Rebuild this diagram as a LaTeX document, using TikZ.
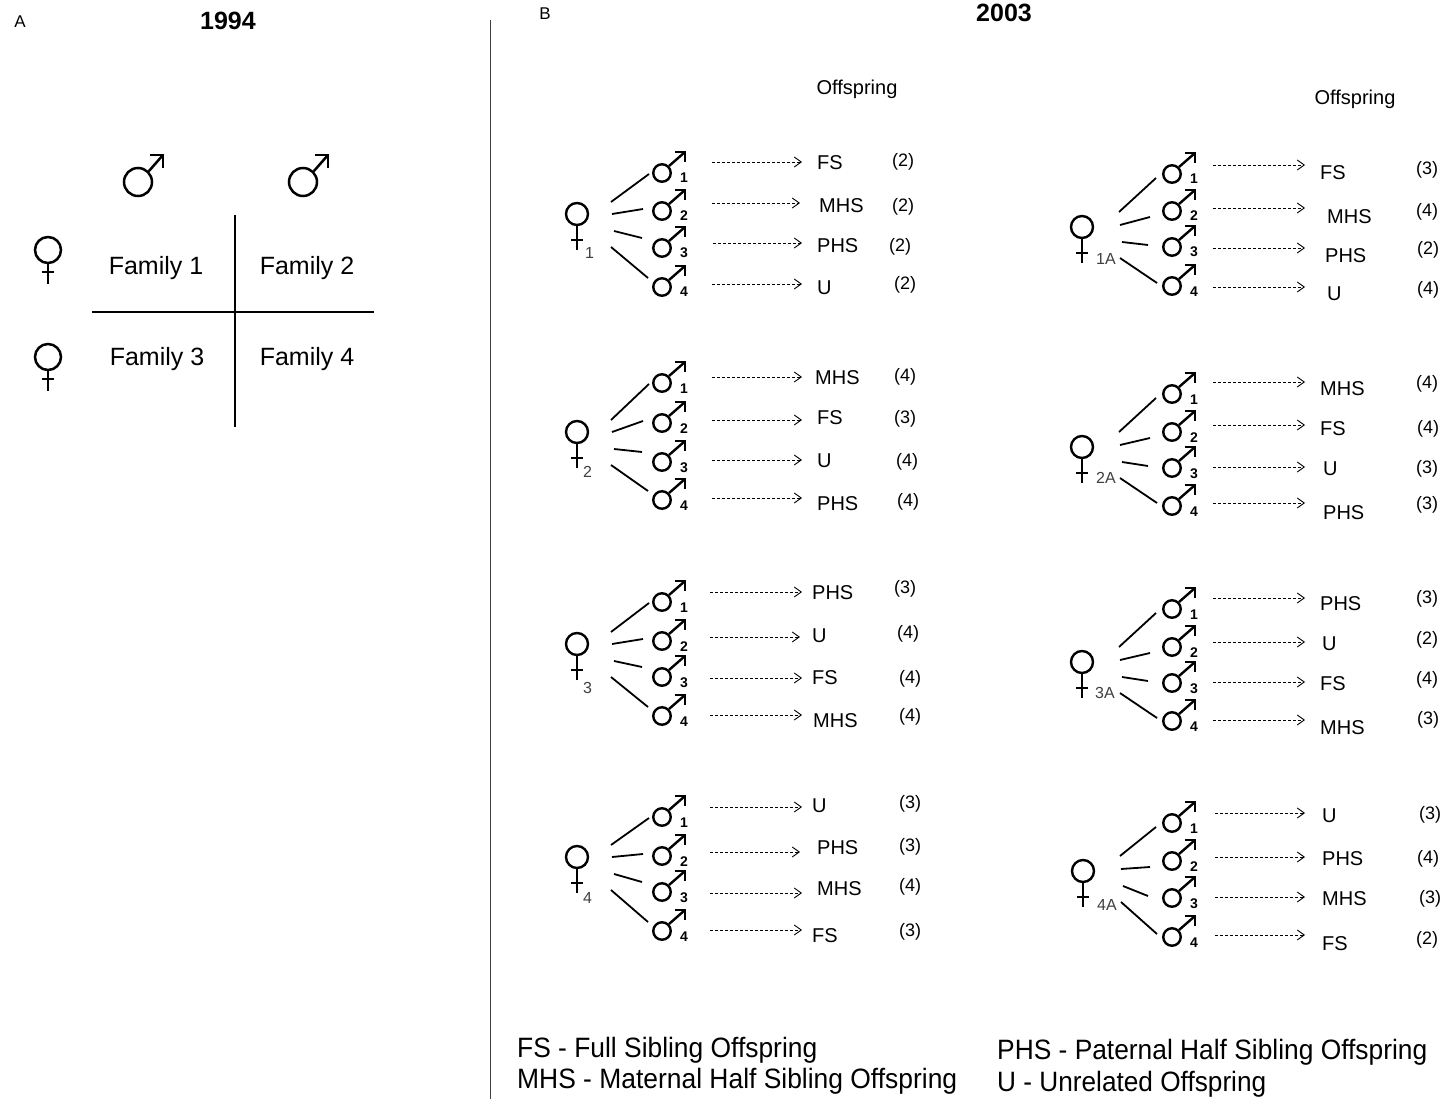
\documentclass[tikz,border=0pt]{standalone}
\usepackage{fontspec}
\setmainfont{Liberation Sans}
\usepackage{graphicx}
\usetikzlibrary{calc,arrows.meta}

\newcounter{rowc}
\tikzset{
  sym/.style={line width=2.4pt, draw=black},
  symA/.style={line width=2.5pt, draw=black},
  mcircB/.style={circle, draw, line width=2.4pt, inner sep=0pt, minimum size=17.5pt},
  fcircB/.style={circle, draw, line width=2.4pt, inner sep=0pt, minimum size=22pt},
  mcircA/.style={circle, draw, line width=2.5pt, inner sep=0pt, minimum size=28pt},
  fcircA/.style={circle, draw, line width=2.5pt, inner sep=0pt, minimum size=26pt},
  conn/.style={line width=1.8pt},
  gridline/.style={line width=1.8pt},
  divider/.style={line width=1pt, draw=black!75},
  darr/.style={line width=0.9pt, dash pattern=on 3pt off 2pt,
    -{Straight Barb[length=7pt,width=10pt,line width=0.9pt]}},
  rowtxt/.style={inner sep=0pt, text height=14.3pt, text depth=0pt, font=\fontsize{20}{24}\selectfont},
  numtxt/.style={inner sep=0pt, text height=12.9pt, text depth=0pt, font=\fontsize{18}{22}\selectfont},
  msub/.style={inner sep=0pt, text height=10pt, text depth=0pt, font=\fontsize{14}{16}\selectfont\bfseries},
  fsub/.style={inner sep=0pt, text height=11.5pt, text depth=0pt, text=black!75, font=\fontsize{16}{18}\selectfont},
  famtxt/.style={inner sep=0pt, text height=17.9pt, text depth=0pt, font=\fontsize{25}{30}\selectfont},
  titletxt/.style={inner sep=0pt, text height=17.9pt, text depth=0pt, font=\fontsize{25}{30}\selectfont\bfseries},
  paneltxt/.style={inner sep=0pt, text height=12.2pt, text depth=0pt, font=\fontsize{17}{20}\selectfont},
  offtxt/.style={inner sep=0pt, text height=14.3pt, text depth=0pt, font=\fontsize{20}{24}\selectfont},
  legtxt/.style={inner sep=0pt, anchor=base west, font=\fontsize{28}{34}\selectfont},
}

% female symbol, panel B
\newcommand\femB[3]{%
  \node[fcircB] (#1) at (#2,#3) {};
  \draw[sym] (#1.south) -- ($(#1)+(0,36)$);
  \draw[sym] ($(#1)+(-6,26)$) -- ($(#1)+(6,26)$);
}
% male symbol, panel B
\newcommand\maleB[4]{%
  \node[mcircB] (#1) at (#2,#3) {};
  \draw[sym] (#1.45) -- ($(#1)+(23,-21)$);
  \draw[sym, line join=miter] ($(#1)+(13,-21)$) -- ($(#1)+(23,-21)$) -- ($(#1)+(23,-11)$);
  \node[msub] (#1n) at ($(#1)+(22,5)$) {#4};
}
% female symbol, panel A
\newcommand\femA[3]{%
  \node[fcircA] (#1) at (#2,#3) {};
  \draw[symA] (#1.south) -- ($(#1)+(0,34)$);
  \draw[symA] ($(#1)+(-6,22)$) -- ($(#1)+(6,22)$);
}
% male symbol, panel A
\newcommand\maleA[3]{%
  \node[mcircA] (#1) at (#2,#3) {};
  \draw[symA] (#1.45) -- ($(#1)+(25,-27)$);
  \draw[symA, line join=miter] ($(#1)+(12,-27)$) -- ($(#1)+(25,-27)$) -- ($(#1)+(25,-14)$);
}

\def\offL{1/34/-12/-13/1, 2/35/0/-19/-2, 3/37/17/-20/-10, 4/34/33/-14/-9}
\def\offR{1/37/-15/-16/4, 2/38/-2/-22/6, 3/40/15/-24/-2, 4/38/31/-15/-3}

% one female with four males
\newcommand\famgroup[9]{%
  \femB{#1f}{#2}{#3}
  \node[fsub, anchor=west] (#1s) at (#5,#6) {#4};
  \foreach \yy [count=\i] in {#8} {\maleB{#1m\i}{#7}{\yy}{\i}}
  \expandafter\let\expandafter\offs\csname off#9\endcsname
  \foreach \i/\sx/\sy/\ex/\ey in \offs {\draw[conn] ($(#1f)+(\sx,\sy)$) -- ($(#1m\i)+(\ex,\ey)$);}
}

% one offspring row
\newcommand\orow[9]{%
  \stepcounter{rowc}%
  \coordinate (as\arabic{rowc}) at (#1,#3);
  \coordinate (ae\arabic{rowc}) at (#2,#3);
  \draw[darr] (as\arabic{rowc}) -- (ae\arabic{rowc});
  \node[rowtxt, anchor=west] (lab\arabic{rowc}) at (#5,#6) {#4};
  \node[numtxt] (num\arabic{rowc}) at (#8,#9) {(#7)};
}

\begin{document}
\begin{tikzpicture}[x=1pt,y=-1pt]
\path[use as bounding box, fill=white] (0,0) rectangle (1453,1099);

% ---------- Panel A ----------
\node[paneltxt] (pA) at (20,21) {A};
\node[titletxt] (t94) at (228,21) {1994};
\maleA{ma1}{138}{182}
\maleA{ma2}{303}{182}
\femA{fa1}{48}{250}
\femA{fa2}{48}{357}
\node[famtxt] (fam1) at (156,266) {Family 1};
\node[famtxt] (fam2) at (307,266) {Family 2};
\node[famtxt] (fam3) at (157,357) {Family 3};
\node[famtxt] (fam4) at (307,357) {Family 4};
\coordinate (vt) at (235,215);
\coordinate (vb) at (235,427);
\coordinate (hl) at (92,312);
\coordinate (hr) at (374,312);
\draw[gridline] (vt) -- (vb);
\draw[gridline] (hl) -- (hr);

% divider
\coordinate (dt) at (490,20);
\coordinate (db) at (490,1099);
\draw[divider] (dt) -- (db);

% ---------- Panel B ----------
\node[paneltxt] (pB) at (545,13) {B};
\node[titletxt] (t03) at (1004,12.5) {2003};
\node[offtxt] (off1) at (857,87) {Offspring};
\node[offtxt] (off2) at (1355,97) {Offspring};

\famgroup{a}{577}{214}{1}{585}{253}{662}{173,211,248,287}{L}
\famgroup{b}{577}{432}{2}{583}{472}{662}{383,423,462,500}{L}
\famgroup{c}{577}{644}{3}{583}{688}{662}{602,641,677,716}{L}
\famgroup{d}{577}{857}{4}{583}{898}{662}{817,856,892,931}{L}

\famgroup{e}{1082}{227}{1A}{1096}{259}{1172}{174,211,247,286}{R}
\famgroup{g}{1082}{447}{2A}{1096}{478}{1172}{394,432,468,506}{R}
\famgroup{h}{1082}{662}{3A}{1095}{693}{1172}{609,647,683,721}{R}
\famgroup{k}{1083}{871}{4A}{1097}{905}{1172}{823,861,898,937}{R}

% left column rows
\orow{712}{802}{162}{FS}{817}{162}{2}{903}{160}
\orow{712}{800}{203}{MHS}{819}{205}{2}{903}{205}
\orow{713}{802}{243}{PHS}{817}{245}{2}{900}{245}
\orow{712}{802}{284}{U}{817}{287}{2}{905}{283}

\orow{712}{802}{377}{MHS}{815}{377}{4}{905}{375}
\orow{712}{802}{420}{FS}{817}{417}{3}{905}{417}
\orow{712}{802}{460}{U}{817}{460}{4}{907}{460}
\orow{712}{802}{498}{PHS}{817}{503}{4}{908}{500}

\orow{710}{802}{592}{PHS}{812}{592}{3}{905}{587}
\orow{710}{800}{637}{U}{812}{635}{4}{908}{632}
\orow{710}{802}{678}{FS}{812}{677}{4}{910}{677}
\orow{710}{802}{715}{MHS}{813}{720}{4}{910}{715}

\orow{710}{802}{807}{U}{812}{805}{3}{910}{802}
\orow{710}{800}{852}{PHS}{817}{847}{3}{910}{845}
\orow{710}{802}{893}{MHS}{817}{888}{4}{910}{885}
\orow{710}{802}{930}{FS}{812}{935}{3}{910}{930}

% right column rows
\orow{1213}{1305}{165}{FS}{1320}{172}{3}{1427}{168}
\orow{1213}{1305}{208}{MHS}{1327}{216}{4}{1427}{210}
\orow{1213}{1305}{248}{PHS}{1325}{255}{2}{1428}{248}
\orow{1213}{1305}{287}{U}{1327}{293}{4}{1428}{288}

\orow{1213}{1305}{382}{MHS}{1320}{388}{4}{1427}{382}
\orow{1213}{1305}{425}{FS}{1320}{428}{4}{1428}{427}
\orow{1213}{1305}{467}{U}{1323}{468}{3}{1427}{467}
\orow{1213}{1305}{503}{PHS}{1323}{512}{3}{1427}{503}

\orow{1213}{1305}{598}{PHS}{1320}{603}{3}{1427}{597}
\orow{1213}{1305}{642}{U}{1322}{643}{2}{1427}{638}
\orow{1213}{1305}{682}{FS}{1320}{683}{4}{1427}{678}
\orow{1213}{1305}{720}{MHS}{1320}{727}{3}{1428}{718}

\orow{1215}{1305}{813}{U}{1322}{815}{3}{1430}{813}
\orow{1215}{1305}{857}{PHS}{1322}{858}{4}{1428}{857}
\orow{1215}{1305}{897}{MHS}{1322}{898}{3}{1430}{897}
\orow{1215}{1305}{935}{FS}{1322}{943}{2}{1427}{938}

% legend
\node[legtxt] (leg1) at (517,1057) {\resizebox{300pt}{\height}{FS - Full Sibling Offspring}};
\node[legtxt] (leg2) at (517,1088) {\resizebox{440pt}{\height}{MHS - Maternal Half Sibling Offspring}};
\node[legtxt] (leg3) at (997,1059) {\resizebox{430pt}{\height}{PHS - Paternal Half Sibling Offspring}};
\node[legtxt] (leg4) at (997,1091) {\resizebox{269pt}{\height}{U - Unrelated Offspring}};
\end{tikzpicture}
\end{document}
